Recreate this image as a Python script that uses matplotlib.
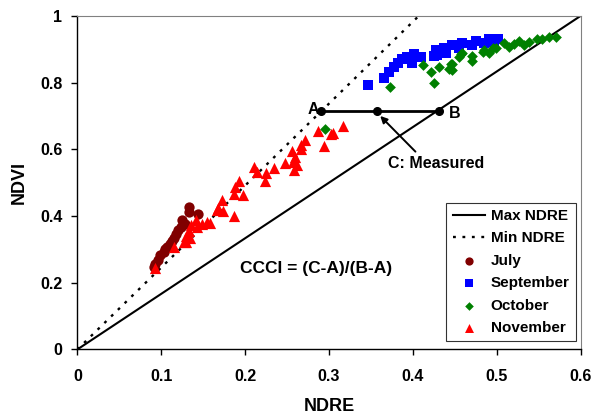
import matplotlib
matplotlib.use("Agg")
import matplotlib.pyplot as plt
import numpy as np

plt.rcParams['font.family'] = ['Liberation Sans', 'DejaVu Sans']
plt.rcParams['font.weight'] = 'bold'

# Data
july_x = [0.091, 0.093, 0.096, 0.099, 0.103, 0.107, 0.111, 0.115, 0.117, 0.123, 0.125, 0.133, 0.133, 0.144, 0.120, 0.128, 0.113, 0.105]
july_y = [0.247, 0.257, 0.269, 0.282, 0.292, 0.307, 0.317, 0.335, 0.347, 0.367, 0.387, 0.413, 0.427, 0.407, 0.357, 0.375, 0.325, 0.300]

sep_x = [0.346, 0.366, 0.371, 0.378, 0.382, 0.387, 0.393, 0.401, 0.410, 0.399, 0.427, 0.429, 0.437, 0.447, 0.459, 0.475, 0.491, 0.501, 0.425, 0.440, 0.455, 0.470, 0.485, 0.497]
sep_y = [0.793, 0.813, 0.833, 0.847, 0.860, 0.871, 0.878, 0.886, 0.878, 0.860, 0.898, 0.883, 0.903, 0.913, 0.920, 0.926, 0.930, 0.930, 0.880, 0.890, 0.905, 0.912, 0.918, 0.922]

oct_x = [0.295, 0.373, 0.425, 0.422, 0.431, 0.446, 0.445, 0.455, 0.459, 0.471, 0.471, 0.483, 0.495, 0.412,
         0.443, 0.447, 0.457, 0.491, 0.499, 0.509, 0.514, 0.527, 0.532, 0.538, 0.548, 0.554, 0.562, 0.570, 0.485, 0.520]
oct_y = [0.662, 0.788, 0.800, 0.833, 0.846, 0.838, 0.857, 0.878, 0.890, 0.864, 0.880, 0.893, 0.903, 0.854,
         0.842, 0.857, 0.887, 0.888, 0.903, 0.918, 0.908, 0.925, 0.913, 0.923, 0.932, 0.930, 0.938, 0.938, 0.898, 0.915]

nov_x = [0.317, 0.287, 0.302, 0.294, 0.271, 0.266, 0.267, 0.256, 0.259, 0.257, 0.262, 0.258, 0.248, 0.234, 0.225, 0.224,
         0.210, 0.214, 0.193, 0.188, 0.187, 0.197, 0.172, 0.168, 0.167, 0.174, 0.187, 0.158, 0.149, 0.143, 0.135,
         0.133, 0.134, 0.129, 0.115, 0.093, 0.127, 0.130, 0.141, 0.155, 0.305]
nov_y = [0.670, 0.656, 0.647, 0.610, 0.629, 0.613, 0.600, 0.595, 0.577, 0.563, 0.553, 0.538, 0.558, 0.544, 0.530, 0.506,
         0.547, 0.532, 0.504, 0.486, 0.467, 0.462, 0.449, 0.425, 0.419, 0.414, 0.401, 0.379, 0.377, 0.367, 0.372,
         0.354, 0.335, 0.322, 0.308, 0.245, 0.322, 0.340, 0.387, 0.383, 0.650]

max_slope = 1.667
min_slope = 2.457
pt_a = (0.291, 0.716)
pt_c = (0.357, 0.716)
pt_b = (0.431, 0.716)

fig = plt.figure(figsize=(5.95, 4.18), dpi=100)
ax = fig.add_axes([0.130, 0.164, 0.846, 0.798])

xs = np.array([0.0, 0.6])
ax.plot(xs, max_slope * xs, color='black', lw=1.5, label='Max NDRE', zorder=2)
ax.plot(xs, min_slope * xs, color='black', lw=1.7, linestyle=(0, (1.2, 2.8)), label='Min NDRE', zorder=2)

ax.scatter(july_x, july_y, marker='o', s=55, color='#800000', label='July', zorder=3, linewidths=0)
ax.scatter(sep_x, sep_y, marker='s', s=55, color='#0000FF', label='September', zorder=3, linewidths=0)
ax.scatter(oct_x, oct_y, marker='D', s=30, color='#008000', label='October', zorder=4, linewidths=0)
ax.scatter(nov_x, nov_y, marker='^', s=65, color='#FF0000', label='November', zorder=3, linewidths=0)

# A-C-B construction
ax.plot([pt_a[0], pt_b[0]], [pt_a[1], pt_b[1]], color='black', lw=2, marker='o', ms=5.5, zorder=5)
ax.plot([pt_c[0]], [pt_c[1]], color='black', marker='o', ms=5.5, zorder=5)
ax.text(pt_a[0] - 0.003, pt_a[1] + 0.003, 'A', ha='right', va='center', fontsize=11.5, fontweight='bold')
ax.text(pt_b[0] + 0.012, pt_b[1] - 0.008, 'B', ha='left', va='center', fontsize=11.5, fontweight='bold')
ax.annotate('', xy=(0.361, 0.700), xytext=(0.403, 0.593),
            arrowprops=dict(arrowstyle='-|>', color='black', lw=1.4, mutation_scale=10, shrinkA=0, shrinkB=0))
ax.text(0.428, 0.558, 'C: Measured', ha='center', va='center', fontsize=11.5, fontweight='bold')

ax.text(0.2845, 0.244, 'CCCI = (C-A)/(B-A)', ha='center', va='center', fontsize=12.5, fontweight='bold')

ax.set_xlim(0, 0.6)
ax.set_ylim(0, 1)
ax.set_xticks([0, 0.1, 0.2, 0.3, 0.4, 0.5, 0.6])
ax.set_xticklabels(['0', '0.1', '0.2', '0.3', '0.4', '0.5', '0.6'])
ax.set_yticks([0, 0.2, 0.4, 0.6, 0.8, 1.0])
ax.set_yticklabels(['0', '0.2', '0.4', '0.6', '0.8', '1'])
ax.tick_params(direction='out', length=4.3, width=1, labelsize=11.5)
ax.tick_params(axis='x', pad=10)
ax.tick_params(axis='y', pad=6.5)
for lbl in ax.get_xticklabels() + ax.get_yticklabels():
    lbl.set_fontweight('bold')
ax.spines['left'].set_linewidth(1)
ax.spines['bottom'].set_linewidth(1)
ax.spines['top'].set_color('#808080')
ax.spines['right'].set_color('#808080')
ax.spines['top'].set_linewidth(0.8)
ax.spines['right'].set_linewidth(0.8)

ax.set_xlabel('NDRE', fontsize=13, fontweight='bold', labelpad=10)
ax.set_ylabel('NDVI', fontsize=13, fontweight='bold', labelpad=9)

leg = ax.legend(loc='lower right', bbox_to_anchor=(0.99, 0.025), frameon=True, fancybox=False,
                edgecolor='black', handlelength=2.1, handletextpad=0.4, borderpad=0.4, labelspacing=0.55,
                borderaxespad=0, markerscale=0.8, prop={'weight': 'bold', 'size': 11})
leg.get_frame().set_linewidth(0.8)

fig.savefig('out.png', dpi=100)
